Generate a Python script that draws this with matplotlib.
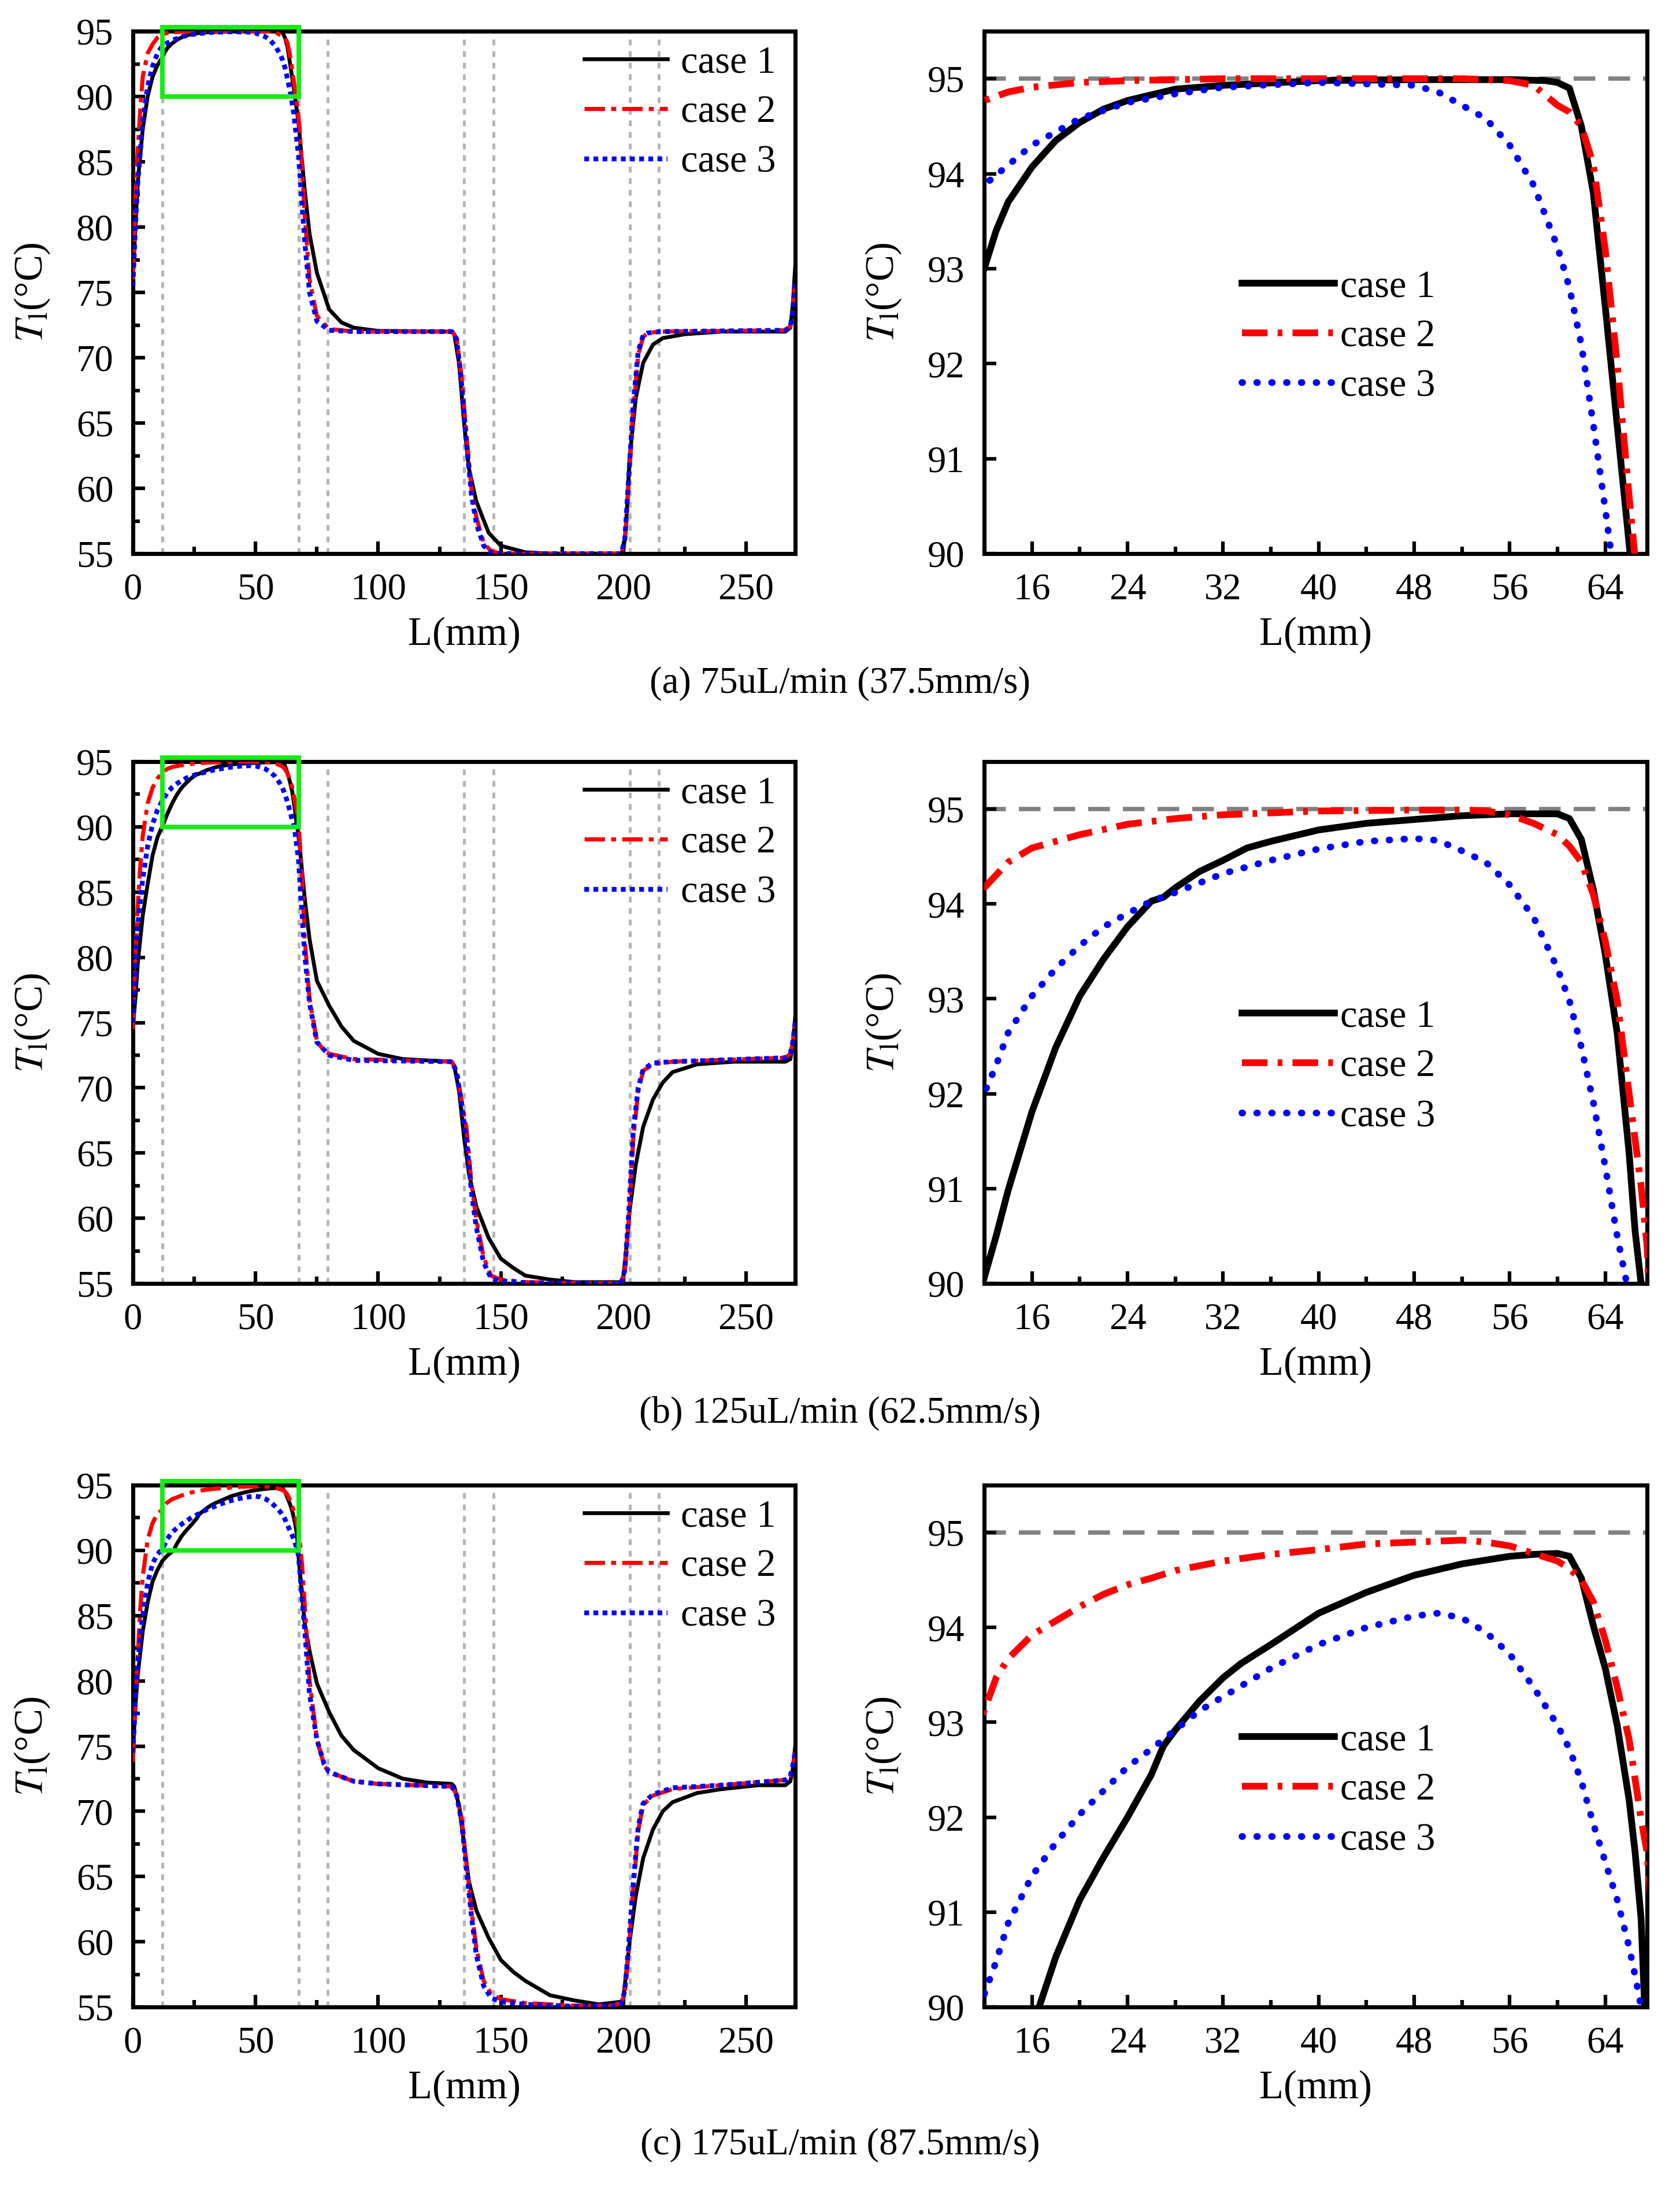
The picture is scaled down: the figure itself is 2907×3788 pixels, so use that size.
import matplotlib
matplotlib.use("Agg")
import matplotlib.pyplot as plt
import matplotlib.patches as patches
from matplotlib.ticker import MultipleLocator

plt.rcParams['font.family'] = ['Liberation Serif', 'DejaVu Serif']
plt.rcParams['mathtext.fontset'] = 'stix'

# ---- data: (a) 75uL/min ----
a1_x = [0, 1, 2, 4, 6, 8, 10, 12, 13, 14, 16, 18, 20, 22, 24, 28, 32, 40, 48, 56, 59, 60, 61, 62, 63, 64, 65, 66, 67.5,
        70, 72, 75, 80, 85, 90, 100, 130, 131, 133, 135, 137, 140, 145, 150, 160, 170, 199, 200, 201, 202.5, 205, 208,
        212, 216, 225, 240, 266, 268, 269, 270]
a1_T = [76, 80, 83.5, 87.5, 90, 91.5, 92.4, 93.0, 93.4, 93.7, 94.07, 94.35, 94.54, 94.68, 94.77, 94.89, 94.93, 94.98,
        94.99, 94.99, 94.98, 94.96, 94.9, 94.5, 93.8, 92.6, 91.35, 90.1, 88.0,
        82.9, 79.5, 76.5, 73.7, 72.7, 72.3, 72.05, 72.0, 71.8, 69.5, 65.0, 61.5, 59.0, 56.6, 55.6, 55.1, 55.0, 55.0,
        55.3, 57.0, 62.4, 66.9, 69.6, 71.0, 71.5, 71.8, 72.0, 72.0, 72.3, 74.0, 77.0]
a2_x = [0, 1, 2, 3, 4, 6, 8, 10, 12, 14, 16, 20, 24, 32, 40, 52, 56, 58, 60, 61, 62, 63, 64, 65, 66, 67, 68, 70, 72, 75,
        80, 90, 130, 132, 134, 136, 138, 140, 143, 146, 150, 199, 200.5, 202, 204, 206, 208, 210, 215, 266, 268, 269, 270]
a2_T = [76, 82, 86, 89, 91.5, 93.3, 94.0, 94.5, 94.77, 94.86, 94.91, 94.96, 94.98, 95.0, 95.0, 95.0, 94.98, 94.93,
        94.72, 94.65, 94.5, 94.1, 93.2, 92.0, 90.6, 89.3, 87.5, 81.0, 76.0, 73.2, 72.2, 72.0, 72.0, 71.5, 68.5, 64.0,
        60.0, 57.8, 55.8, 55.2, 55.0, 55.0, 55.8, 60.0, 66.0, 70.2, 71.6, 71.9, 72.0, 72.1, 72.4, 73.5, 76.0]
a3_x = [0, 1, 2, 4, 6, 8, 10, 12, 14, 16, 18, 20, 24, 28, 32, 40, 48, 50, 52, 54, 56, 58, 60, 61, 62, 63, 64, 64.5,
        65.5, 67.5, 70, 72, 75, 80, 90, 130, 132, 134, 136, 138, 140, 143, 146, 150, 199, 200.5, 202, 204, 206, 208,
        210, 215, 266, 268, 269, 270]
a3_T = [75.5, 80, 83.5, 88, 90.8, 92.3, 93.3, 93.88, 94.09, 94.3, 94.44, 94.58, 94.75, 94.84, 94.91, 94.96, 94.93,
        94.86, 94.72, 94.58, 94.3, 93.88, 93.23, 92.8, 92.2, 91.36, 90.47, 90.0, 88.8, 85.5, 79.0, 75.0, 72.8, 72.1,
        72.0, 72.0, 71.4, 68.0, 63.5, 59.5, 57.3, 55.6, 55.1, 55.0, 55.0, 56.0, 60.5, 66.5, 70.5, 71.7, 71.9, 72.0,
        72.1, 72.4, 73.5, 76.0]

# ---- data: (b) 125uL/min ----
b1_x = [0, 1, 2, 4, 6, 8, 10, 12, 13, 14, 16, 18, 20, 22, 24, 26, 27, 28, 30, 32, 34, 36, 40, 44, 48, 52, 56, 60, 61,
        62, 63, 64, 65, 66, 66.5, 67, 68, 70, 72, 75, 80, 85, 90, 100, 110, 130, 131, 133, 135, 137, 140, 145, 150, 155,
        160, 170, 180, 199, 200, 201, 202.5, 205, 208, 212, 216, 220, 230, 245, 266, 268, 269, 270]
b1_T = [74.7, 76.8, 79.6, 83.2, 85.6, 87.8, 89.2, 90.06, 90.5, 90.98, 91.81, 92.49, 93.03, 93.42, 93.76, 94.03, 94.07,
        94.17, 94.34, 94.46, 94.59, 94.66, 94.78, 94.85, 94.89, 94.93, 94.95, 94.95, 94.9, 94.68, 94.15, 93.47, 92.64,
        91.37, 90.55, 90.0, 88.5, 84.6, 81.4, 78.2, 76.3, 74.7, 73.6, 72.6, 72.2, 72.0, 71.7, 69.7, 66.2, 63.4, 60.9,
        58.5, 56.9, 56.2, 55.6, 55.3, 55.1, 55.1, 55.6, 57.4, 60.6, 64.1, 67.0, 69.1, 70.4, 71.2, 71.8, 72.0, 72.0,
        72.2, 73.3, 75.4]
b2_x = [0, 1, 2, 3, 4, 6, 8, 10, 12, 14, 16, 18, 20, 24, 28, 32, 36, 40, 48, 52, 54, 56, 58, 60, 61, 62, 63, 64, 65,
        66, 67, 67.5, 69, 70, 72, 75, 78, 80, 90, 130, 132, 134, 136, 138, 140, 143, 146, 150, 160, 199, 200.5, 202,
        204, 206, 208, 212, 220, 266, 268, 269, 270]
b2_T = [74.5, 80, 84, 87, 89.3, 91.8, 93.0, 93.7, 94.17, 94.44, 94.59, 94.66, 94.73, 94.84, 94.9, 94.94, 94.96, 94.98,
        94.99, 94.99, 94.98, 94.94, 94.85, 94.73, 94.61, 94.44, 94.1, 93.61, 92.98, 92.0, 91.03, 90.4, 86.0, 81.5,
        76.8, 73.6, 72.8, 72.6, 72.2, 72.0, 71.3, 69.0, 66.9, 62.7, 59.9, 57.0, 55.6, 55.3, 55.1, 55.0, 55.8, 59.2,
        66.2, 69.7, 71.3, 71.8, 72.0, 72.3, 72.6, 73.5, 75.0]
b3_x = [0, 1, 2, 4, 6, 8, 10, 12, 13, 14, 16, 18, 20, 22, 24, 26, 28, 32, 36, 40, 44, 48, 50, 52, 54, 56, 58, 60, 61,
        62, 63, 64, 65, 65.8, 67.5, 70, 72, 75, 80, 90, 130, 132, 134, 136, 138, 140, 143, 146, 150, 160, 199, 200.5,
        202, 204, 206, 208, 212, 220, 266, 268, 269, 270]
b3_T = [75, 79.5, 82.5, 86, 88.5, 90.2, 91.3, 92.0, 92.3, 92.64, 93.03, 93.32, 93.56, 93.76, 93.9, 94.03, 94.12, 94.32,
        94.46, 94.58, 94.66, 94.69, 94.67, 94.56, 94.44, 94.2, 93.86, 93.32, 92.98, 92.49, 91.91, 91.23, 90.5, 90.0,
        87.5, 80.3, 76.5, 73.5, 72.5, 72.1, 72.0, 71.2, 68.7, 66.0, 62.0, 59.3, 56.6, 55.4, 55.2, 55.05, 55.0, 56.0,
        60.0, 66.8, 70.0, 71.4, 71.9, 72.0, 72.3, 72.6, 73.5, 75.0]

# ---- data: (c) 175uL/min ----
c1_x = [0, 1, 2, 4, 6, 8, 10, 12, 14, 16.6, 18, 20, 22, 24, 26, 27, 28, 30, 32, 33.5, 36, 40, 44, 48, 52, 56, 58, 60,
        61, 62, 63, 64, 65, 66, 66.5, 67, 67.3, 68, 70, 72, 75, 80, 85, 90, 100, 110, 120, 130, 131, 133, 135, 137, 140,
        145, 150, 155, 160, 170, 180, 190, 199, 200, 201, 202.5, 205, 208, 212, 216, 220, 230, 240, 255, 266, 268, 269,
        270]
c1_T = [74.5, 78, 80.5, 83.8, 86, 87.6, 88.5, 89.2, 89.6, 90.0, 90.53, 91.13, 91.58, 92.0, 92.45, 92.75, 92.92, 93.22,
        93.47, 93.62, 93.82, 94.15, 94.37, 94.55, 94.67, 94.75, 94.77, 94.78, 94.75, 94.52, 94.02, 93.57, 92.97, 92.18,
        91.63, 90.93, 90.0, 88.5, 84.5, 82.3, 79.8, 77.6, 75.8, 74.7, 73.3, 72.5, 72.2, 72.1, 71.9, 70.4, 67.5, 64.6,
        62.4, 60.3, 58.6, 57.7, 57.0, 55.9, 55.5, 55.2, 55.4, 55.7, 57.5, 60.0, 63.5, 66.4, 68.6, 70.0, 70.7, 71.4,
        71.7, 72.0, 72.0, 72.3, 73.2, 75.0]
c2_x = [0, 1, 2, 3, 4, 6, 8, 10, 12, 13, 14, 16, 18, 20, 22, 24, 26, 28, 30, 32, 36, 40, 44, 48, 52, 54, 56, 58, 60,
        61, 62, 63, 64, 65, 66, 67, 67.5, 68, 69, 70, 72, 75, 78, 80, 90, 100, 130, 132, 134, 136, 138, 140, 143, 146,
        150, 160, 180, 195, 199, 200.5, 202, 204, 206, 208, 212, 220, 240, 266, 268, 269, 270]
c2_T = [73.8, 78, 82, 85.5, 88, 90.8, 92.1, 92.8, 93.12, 93.47, 93.67, 93.92, 94.07, 94.22, 94.35, 94.45, 94.52, 94.6,
        94.65, 94.7, 94.77, 94.82, 94.88, 94.9, 94.92, 94.9, 94.86, 94.78, 94.7, 94.62, 94.5, 94.27, 93.87, 93.37,
        92.82, 91.98, 91.63, 90.8, 88.8, 86.0, 80.0, 75.5, 73.5, 73.0, 72.3, 72.1, 71.9, 71.3, 69.5, 66.0, 62.5, 59.5,
        57.0, 56.0, 55.6, 55.3, 55.1, 55.1, 55.3, 56.0, 59.0, 64.0, 68.5, 70.5, 71.2, 71.7, 72.0, 72.4, 72.7, 73.5,
        74.5]
c3_x = [0, 1, 2, 4, 6, 8, 10, 12, 13, 14, 16, 18, 20, 22, 24, 26, 28, 30, 32, 36, 40, 44, 48, 50, 52, 54, 56, 58, 60,
        61, 62, 63, 64, 65, 66, 66.5, 67, 67.5, 68, 70, 72, 75, 78, 80, 90, 100, 130, 132, 134, 136, 138, 140, 143,
        146, 150, 160, 180, 195, 199, 200.5, 202, 204, 206, 208, 212, 220, 240, 266, 268, 269, 270]
c3_T = [74.5, 78.5, 81.5, 85, 87.5, 89, 89.7, 90.13, 90.48, 90.88, 91.38, 91.73, 92.03, 92.28, 92.53, 92.72, 92.92,
        93.12, 93.27, 93.57, 93.82, 94.0, 94.12, 94.15, 94.1, 93.95, 93.72, 93.37, 92.97, 92.72, 92.38, 91.93, 91.53,
        91.13, 90.63, 90.33, 90.0, 89.6, 88.5, 84.0, 79.0, 75.5, 73.6, 73.0, 72.3, 72.1, 71.9, 71.2, 69.2, 65.5, 62.0,
        59.0, 56.6, 55.7, 55.4, 55.2, 55.05, 55.05, 55.25, 56.2, 59.5, 64.5, 68.8, 70.6, 71.3, 71.8, 72.0, 72.4, 72.7,
        73.5, 74.5]

case_labels = ['case 1', 'case 2', 'case 3']
captions = ['(a) 75uL/min (37.5mm/s)', '(b) 125uL/min (62.5mm/s)', '(c) 175uL/min (87.5mm/s)']
section_edges = [12, 67.5, 79.5, 135, 147, 202.5, 214.5]
zoom_x = (12, 67.5)
zoom_T = (90, 95.3)
set_T = 95

rows = [
    [(a1_x, a1_T), (a2_x, a2_T), (a3_x, a3_T)],
    [(b1_x, b1_T), (b2_x, b2_T), (b3_x, b3_T)],
    [(c1_x, c1_T), (c2_x, c2_T), (c3_x, c3_T)],
]

W, H = 2907, 3788
fig = plt.figure(figsize=(W / 300, H / 300), dpi=300)

row_px = [(54, 958), (1318, 2221), (2570, 3473)]
caption_px = [1183, 2446, 3712]
left_px = (230, 1376)
right_px = (1703, 2850)

fs = 15.5
ylab = r'$T_\mathrm{l}$(°C)'


def style_axes(ax):
    for s in ax.spines.values():
        s.set_linewidth(1.7)
    ax.tick_params(which='both', direction='in', top=False, right=False, width=1.5, labelsize=fs, pad=8)
    ax.tick_params(which='major', length=5)
    ax.tick_params(which='minor', length=2.8)


def ax_rect(xpx, ypx):
    return [xpx[0] / W, 1 - ypx[1] / H, (xpx[1] - xpx[0]) / W, (ypx[1] - ypx[0]) / H]


for i, series in enumerate(rows):
    axl = fig.add_axes(ax_rect(left_px, row_px[i]))
    axr = fig.add_axes(ax_rect(right_px, row_px[i]))

    # left: full channel
    for xe in section_edges:
        axl.axvline(xe, color='#b4b4b4', lw=1.2, ls=(0, (2, 2)), zorder=1)
    (x1, t1), (x2, t2), (x3, t3) = series
    axl.plot(x1, t1, color='black', lw=1.6, label=case_labels[0], zorder=3)
    axl.plot(x2, t2, color='red', lw=1.7, ls=(0, (5, 1.5, 1.2, 1.5)), label=case_labels[1], zorder=3)
    axl.plot(x3, t3, color='blue', lw=2.0, ls=(0, (1, 0.9)), label=case_labels[2], zorder=3)
    rect = patches.Rectangle((zoom_x[0], zoom_T[0]), zoom_x[1] - zoom_x[0], zoom_T[1] - zoom_T[0],
                             fill=False, edgecolor='#12ee12', lw=1.9, clip_on=False, zorder=4)
    axl.add_patch(rect)
    axl.set_xlim(0, 270)
    axl.set_ylim(55, 95)
    axl.xaxis.set_major_locator(MultipleLocator(50))
    axl.xaxis.set_minor_locator(MultipleLocator(25))
    axl.yaxis.set_major_locator(MultipleLocator(5))
    axl.yaxis.set_minor_locator(MultipleLocator(2.5))
    style_axes(axl)
    axl.set_xlabel('L(mm)', fontsize=fs + 1, labelpad=4)
    axl.set_ylabel(ylab, fontsize=fs + 1, labelpad=10)
    axl.legend(loc='upper right', bbox_to_anchor=(1.0, 1.01), frameon=False, fontsize=fs + 0.5,
               handlelength=2.15, handletextpad=0.35, labelspacing=0.38, borderaxespad=0.1)

    # right: zoom of the heating section
    axr.axhline(set_T, color='#808080', lw=1.8, ls=(0, (5, 3)), zorder=1)
    axr.plot(x1, t1, color='black', lw=2.8, label=case_labels[0], zorder=3)
    axr.plot(x2, t2, color='red', lw=2.8, ls=(0, (3.8, 1.5, 0.7, 1.5)), label=case_labels[1], zorder=3)
    l3, = axr.plot(x3, t3, color='blue', lw=2.8, ls=(0, (0.1, 2.1)), label=case_labels[2], zorder=3)
    l3.set_dash_capstyle('round')
    axr.set_xlim(zoom_x[0], zoom_x[1])
    axr.set_ylim(90, 95.5)
    axr.xaxis.set_minor_locator(MultipleLocator(4))
    axr.set_xticks([16, 24, 32, 40, 48, 56, 64])
    axr.yaxis.set_major_locator(MultipleLocator(1))
    style_axes(axr)
    axr.set_xlabel('L(mm)', fontsize=fs + 1, labelpad=4)
    axr.set_ylabel(ylab, fontsize=fs + 1, labelpad=10)
    axr.legend(loc='center', bbox_to_anchor=(0.535, 0.415), frameon=False, fontsize=fs + 0.5,
               handlelength=2.4, handletextpad=0.15, labelspacing=0.38)

    fig.text(0.5, 1 - caption_px[i] / H, captions[i], ha='center', va='center', fontsize=fs)

fig.savefig('out.png', dpi=300)
